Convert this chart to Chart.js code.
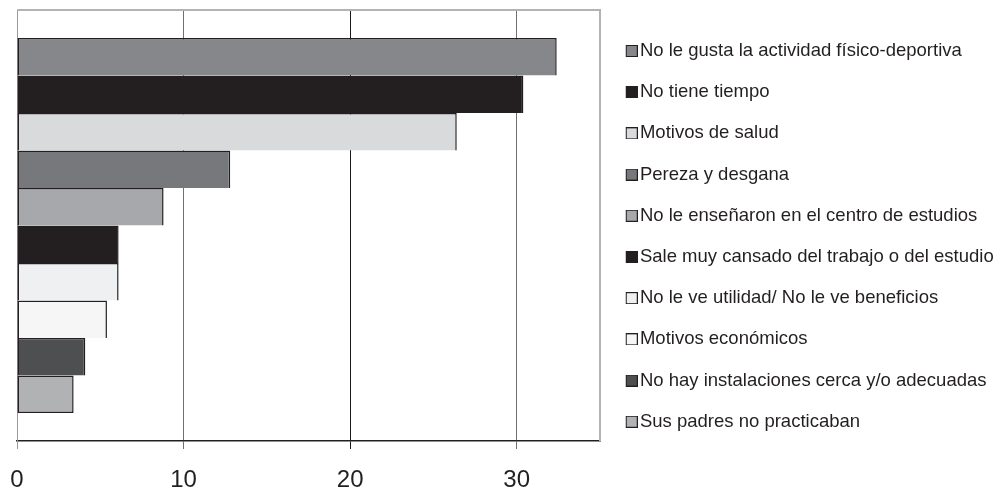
<!DOCTYPE html>
<html>
<head>
<meta charset="utf-8">
<script src="https://cdn.jsdelivr.net/npm/chart.js@4"></script>
<style>
  html, body { margin: 0; padding: 0; background: #ffffff; }
  #wrap { width: 995px; height: 493px; }
</style>
</head>
<body>
<div id="wrap"><canvas id="c" width="995" height="493"></canvas></div>
<script>
// ---- data ----
const categories = [''];
const seriesNames = [
  'No le gusta la actividad físico-deportiva',
  'No tiene tiempo',
  'Motivos de salud',
  'Pereza y desgana',
  'No le enseñaron en el centro de estudios',
  'Sale muy cansado del trabajo o del estudio',
  'No le ve utilidad/ No le ve beneficios',
  'Motivos económicos',
  'No hay instalaciones cerca y/o adecuadas',
  'Sus padres no practicaban'
];
const seriesValues = [32.4, 30.4, 26.4, 12.8, 8.8, 6.1, 6.1, 5.4, 4.1, 3.4];
const xTicks = [0, 10, 20, 30];

// ---- styles ----
const fills = ['#86878a', '#231f20', '#d9dadc', '#77787b', '#a7a8ab',
               '#231f20', '#eff0f1', '#f6f6f6', '#4e4f51', '#b1b2b4'];
const edge = '#231f20';
const FONT = "'Liberation Sans', Arial, Helvetica, sans-serif";

function swatch(color) {
  const c = document.createElement('canvas');
  c.width = 22; c.height = 12;
  const g = c.getContext('2d');
  g.fillStyle = edge;
  g.fillRect(10, 0, 12, 12);
  g.fillStyle = color;
  g.fillRect(11, 1, 10, 10);
  return c;
}

const datasets = seriesNames.map((name, i) => ({
  label: name,
  data: [seriesValues[i]],
  backgroundColor: fills[i],
  borderColor: edge,
  borderWidth: {top: 1.5, left: 1.5, right: 1.5, bottom: i === seriesNames.length - 1 ? 1.5 : 0},
  borderSkipped: false
}));

const framePlugin = {
  id: 'frame',
  beforeDatasetsDraw(chart) {
    const {ctx, chartArea: a} = chart;
    ctx.save();
    ctx.strokeStyle = '#b3b3b3';
    ctx.lineWidth = 2;
    ctx.beginPath();
    ctx.moveTo(a.left, a.top);
    ctx.lineTo(a.right, a.top);
    ctx.lineTo(a.right, a.bottom);
    ctx.stroke();
    ctx.restore();
  }
};

new Chart(document.getElementById('c'), {
  type: 'bar',
  data: { labels: categories, datasets },
  plugins: [framePlugin],
  options: {
    indexAxis: 'y',
    responsive: false,
    animation: false,
    layout: { padding: { left: 17, top: 10, right: 1, bottom: 0 } },
    datasets: { bar: { categoryPercentage: 0.87, barPercentage: 1.0 } },
    scales: {
      x: {
        min: 0, max: 35,
        afterBuildTicks(scale) { scale.ticks = xTicks.map(v => ({ value: v })); },
        afterFit(scale) { scale.height = 52; scale.paddingLeft = 0; scale.paddingRight = 0; },
        grid: {
          color: ctx => {
            const v = ctx.tick ? ctx.tick.value : null;
            if (v === 0) return '#999999';
            if (v === 20) return '#1a1a1a';
            return '#707070';
          },
          lineWidth: 1,
          tickLength: 8,
          drawOnChartArea: true
        },
        border: { display: true, color: '#231f20', width: 1.5 },
        ticks: {
          color: '#231f20',
          padding: 19.5,
          font: { family: FONT, size: 24, lineHeight: 1 }
        }
      },
      y: {
        grid: { display: false, drawTicks: false },
        border: { display: true, color: '#999999', width: 1 },
        ticks: { display: false }
      }
    },
    plugins: {
      tooltip: { enabled: false },
      legend: {
        position: 'right',
        align: 'start',
        maxWidth: 394,
        title: { display: true, text: ' ', font: { size: 1, lineHeight: 1 }, padding: { top: 8, bottom: 0 } },
        labels: {
          usePointStyle: true,
          boxWidth: 8,
          boxHeight: 12,
          padding: 22.7,
          color: '#231f20',
          font: { family: FONT, size: 18.5 },
          generateLabels(chart) {
            const items = Chart.defaults.plugins.legend.labels.generateLabels(chart);
            items.forEach((it, i) => { it.pointStyle = swatch(fills[i]); it.fontColor = '#231f20'; });
            return items;
          }
        }
      }
    }
  }
});
</script>
</body>
</html>
